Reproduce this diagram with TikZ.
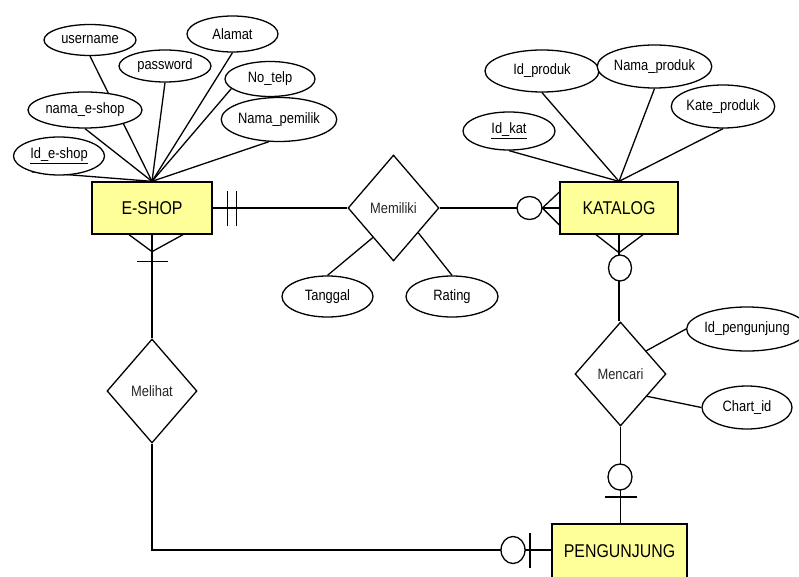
\documentclass[tikz,border=0pt]{standalone}
\usepackage{fontspec}
\setmainfont{Liberation Sans}[FakeStretch=0.86]
\usetikzlibrary{shapes.geometric,backgrounds,calc}
\definecolor{entyellow}{HTML}{FFFF99}
\begin{document}
\begin{tikzpicture}[x=1pt,y=-1pt,
  lw/.style={line width=1.3pt},
  sz/.style 2 args={minimum width=#1pt,minimum height=#2pt},
  attr/.style={ellipse,draw,lw,fill=white,inner sep=0pt,font=\fontsize{15}{18}\selectfont},
  ent/.style={rectangle,draw,lw,fill=entyellow,inner sep=0pt,font=\fontsize{18.5}{22}\selectfont},
  rel/.style={diamond,draw,lw,fill=white,inner sep=0pt,font=\fontsize{15}{18}\selectfont,text=black!85},
  conn/.style={lw},
  zero/.style={ellipse,draw,lw,fill=white,inner sep=0pt},
]
\useasboundingbox (0,0) rectangle (799,577);

% entities
\node[ent,sz={120}{52}] (eshop) at (152,208) {E-SHOP};
\node[ent,sz={118}{52}] (kat) at (619,208) {KATALOG};
\node[ent,sz={135}{54}] (peng) at (619.5,551) {PENGUNJUNG};

% relationships
\node[rel,sz={91}{106}] (mem) at (393.5,208) {Memiliki};
\node[rel,sz={91}{104}] (men) at (620.5,374) {Mencari};
\node[rel,sz={90}{104}] (mel) at (152,391) {Melihat};

% attributes of E-SHOP
\node[attr,sz={92}{31}] (user) at (90,40) {username};
\node[attr,sz={92}{32}] (pass) at (165,66) {password};
\node[attr,sz={91}{36}] (alamat) at (232.5,34) {Alamat};
\node[attr,sz={90}{35}] (notelp) at (270,79) {No\_telp};
\node[attr,sz={108}{44}] (npem) at (279,119.5) {Nama\_pemilik};
\node[attr,sz={114}{36}] (nes) at (85,110) {nama\_e-shop};
\node[attr,sz={91}{38}] (ides) at (59,156) {\underline{Id\_e-shop}};

% attributes of KATALOG
\node[attr,sz={114}{42}] (idprod) at (542,71) {Id\_produk};
\node[attr,sz={105}{43}] (nprod) at (654.5,66.5) {Nama\_produk};
\node[attr,sz={90}{43}] (kprod) at (723,106.5) {Kate\_produk};
\node[attr,sz={92}{38}] (idkat) at (509,131) {\underline{Id\_kat}};

% attributes of relationships
\node[attr,sz={91}{41}] (tgl) at (327.5,296.5) {Tanggal};
\node[attr,sz={92}{41}] (rating) at (452,296.5) {Rating};
\node[attr,sz={106}{44}] (idpeng) at (747,329) {Id\_pengunjung};
\node[attr,sz={90}{43}] (chart) at (747,407.5) {Chart\_id};

\begin{scope}[on background layer]
\fill[white] (0,0) rectangle (799,577);
% attribute links
\draw[conn] (user.south) -- (eshop.north);
\draw[conn] (pass.south) -- (eshop.north);
\draw[conn] (alamat.south) -- (eshop.north);
\draw[conn] (notelp.194) -- (eshop.north);
\draw[conn] (npem.245) -- (eshop.north);
\draw[conn] (nes.south) -- (eshop.north);
\draw[conn] (ides.210) -- (eshop.north);
\draw[conn] (idprod.south) -- (kat.north);
\draw[conn] (nprod.south) -- (kat.north);
\draw[conn] (kprod.south) -- (kat.north);
\draw[conn] (idkat.south) -- (kat.north);
\draw[conn] (mem.235) -- (tgl.north);
\draw[conn] (mem.-45) -- (rating.north);
\draw[conn] (men.42) -- (idpeng.west);
\draw[conn] (men.-40) -- (chart.west);
% relationship links
\draw[conn] (eshop.east) -- (mem.west);
\draw[conn] (mem.east) -- (kat.west);
\draw[conn] (kat.south) -- (men.north -| kat.south);
\draw[conn] (men.south) -- (men.south |- peng.north);
\draw[conn] (eshop.south) -- (mel.north);
\draw[conn] (mel.south) |- ($(peng.west)+(0,-1)$);
\end{scope}

% cardinality marks
% E-SHOP side of Memiliki: double bar
\draw[conn] ($(eshop.east)+(15,-17)$) -- ($(eshop.east)+(15,18)$);
\draw[conn] ($(eshop.east)+(24,-17)$) -- ($(eshop.east)+(24,18)$);
% KATALOG side of Memiliki: circle + crow's foot
\node[zero,sz={25}{23}] (c1) at (529.5,208) {};
\draw[conn] ($(kat.west)+(0,-16)$) -- ($(kat.west)+(-17,0)$) -- ($(kat.west)+(0,17)$);
% KATALOG side of Mencari
\draw[conn] ($(kat.south)+(-23,0)$) -- ($(kat.south)+(0,18)$) -- ($(kat.south)+(24,0)$);
\node[zero,sz={23}{26}] (c2) at (620,268) {};
% PENGUNJUNG side of Mencari
\node[zero,sz={24}{26}] (c3) at (620,477) {};
\draw[conn] (605,497) -- (637,497);
% E-SHOP side of Melihat
\draw[conn] ($(eshop.south)+(-23,0)$) -- ($(eshop.south)+(0,17)$) -- ($(eshop.south)+(31,0)$);
\draw[conn] ($(eshop.south)+(-15,27)$) -- ($(eshop.south)+(16,27)$);
% PENGUNJUNG side of Melihat
\node[zero,sz={24}{27}] (c4) at (513,550) {};
\draw[conn] (530,533) -- (530,568);
\end{tikzpicture}
\end{document}
